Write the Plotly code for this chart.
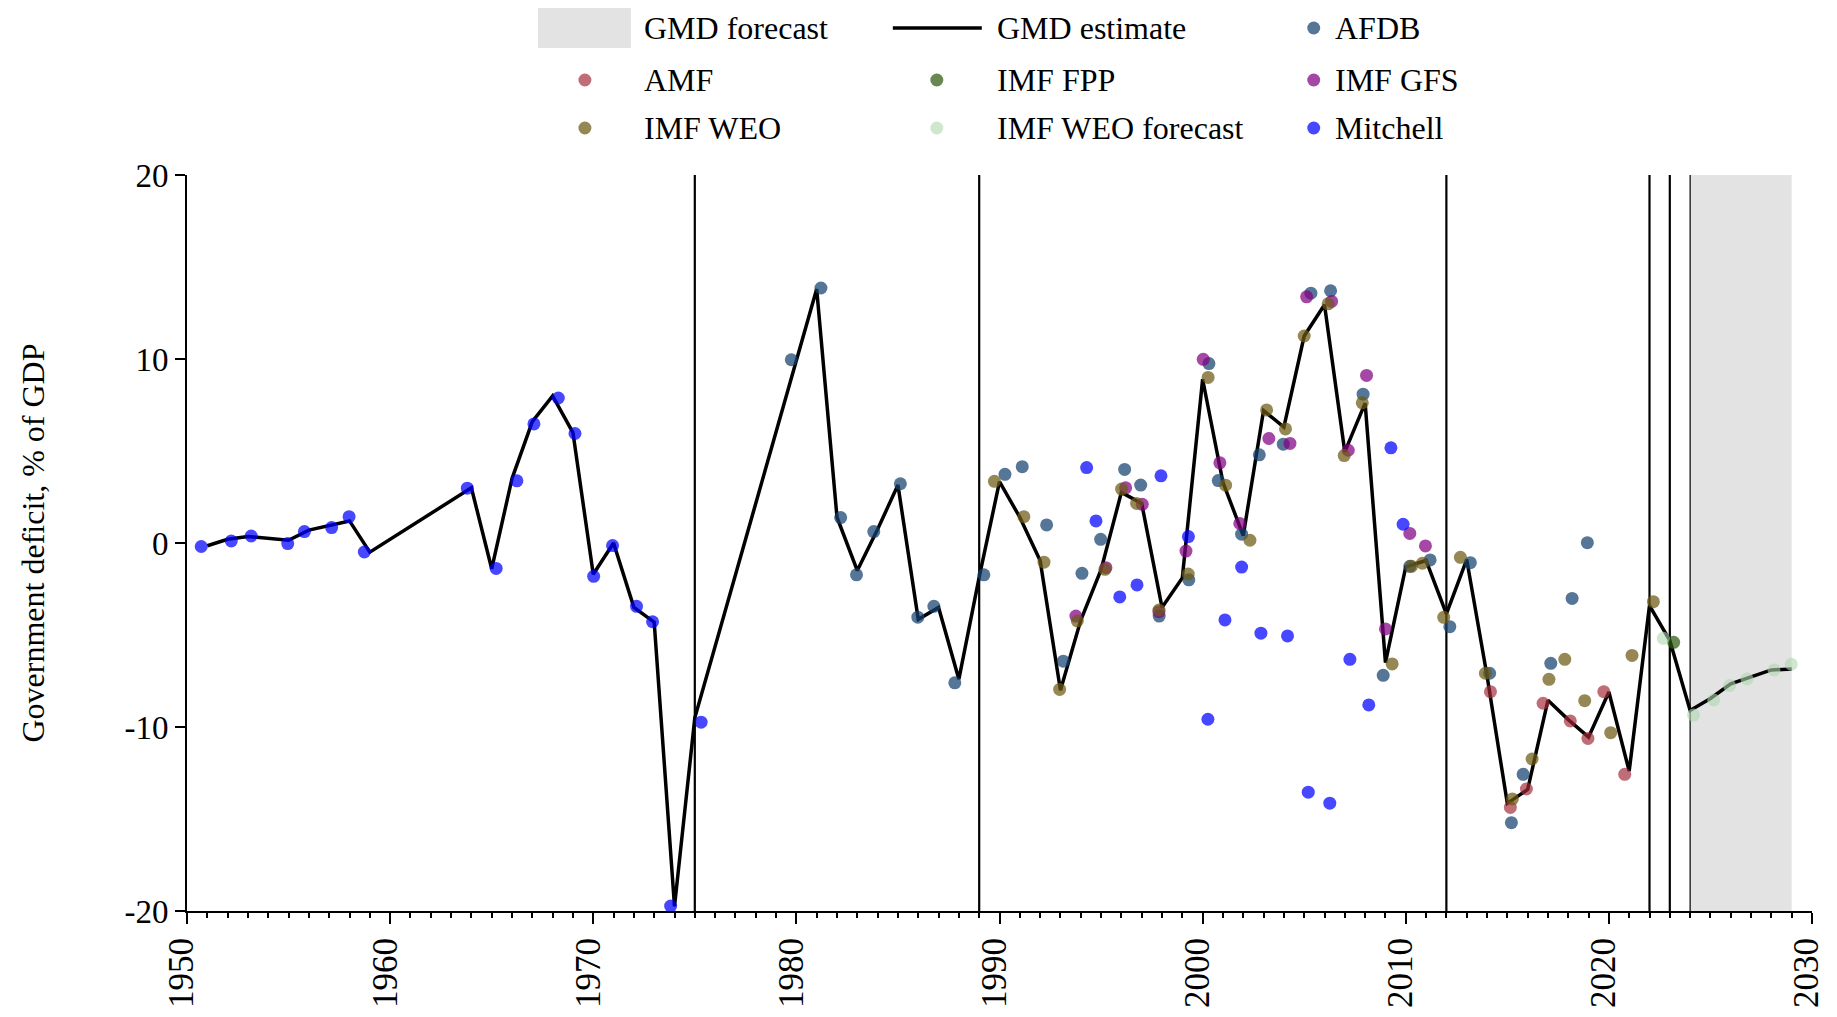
import plotly.graph_objects as go

FONT = "Liberation Serif, Times New Roman, Times, serif"
# page has an 8px body margin; the figure is sized so it fits the 1837x1017 window
W, H = 1821, 1001
OFF = 8
ML, MT = 187 - OFF, 175 - OFF
MR = W - (1812.4 - OFF)
MB = H - (911 - OFF)

# ---------------- data ----------------
gmd_years = [1951, 1952, 1953, 1955, 1956, 1957, 1958, 1959,
             1964, 1965, 1966, 1967, 1968, 1969, 1970, 1971, 1972, 1973, 1974, 1975,
             1980, 1981, 1982, 1983, 1984, 1985, 1986, 1987, 1988, 1989,
             1990, 1991, 1992, 1993, 1994, 1995, 1996, 1997, 1998, 1999,
             2000, 2001, 2002, 2003, 2004, 2005, 2006, 2007, 2008, 2009,
             2010, 2011, 2012, 2013, 2014, 2015, 2016, 2017, 2018, 2019,
             2020, 2021, 2022, 2023, 2024, 2025, 2026, 2027, 2028, 2029]
gmd_values = [-0.15, 0.2, 0.35, 0.15, 0.7, 0.95, 1.2, -0.5,
              3.0, -1.4, 3.5, 6.6, 8.0, 6.0, -1.7, 0.0, -3.5, -4.3, -19.75, -9.5,
              9.9, 13.8, 1.4, -1.5, 0.75, 3.15, -4.15, -3.5, -7.4, -1.85,
              3.33, 1.4, -0.95, -8.0, -4.2, -1.45, 2.75, 2.15, -3.5, -1.9,
              8.9, 3.3, 0.4, 7.2, 6.3, 11.25, 12.95, 4.95, 7.6, -6.5,
              -1.3, -0.95, -3.85, -0.9, -7.2, -14.15, -13.4, -8.55, -9.6, -10.55,
              -8.1, -12.4, -3.4, -5.3, -9.1, -8.45, -7.65, -7.3, -6.9, -6.85]

afdb_x = [1979.75, 1981.21, 1982.18, 1982.96, 1983.81, 1985.12, 1985.98, 1986.77, 1987.8, 1989.23,
          1990.27, 1991.12, 1992.32, 1993.14, 1994.06, 1994.98, 1996.16, 1996.95, 1997.86, 1999.32,
          2000.31, 2000.77, 2001.92, 2002.79, 2003.97, 2005.33, 2006.3, 2007.9, 2008.89, 2010.2,
          2011.2, 2012.17, 2013.18, 2014.13, 2015.2, 2015.78, 2017.14, 2018.19, 2018.94]
afdb_y = [9.96, 13.86, 1.38, -1.73, 0.62, 3.22, -4.03, -3.44, -7.6, -1.73,
          3.73, 4.15, 0.98, -6.42, -1.65, 0.2, 4.0, 3.15, -3.97, -2.0,
          9.75, 3.39, 0.48, 4.79, 5.37, 13.58, 13.71, 8.09, -7.19, -1.27,
          -0.92, -4.55, -1.07, -7.08, -15.2, -12.57, -6.54, -3.01, 0.02]

amf_x = [2014.17, 2015.15, 2015.94, 2016.76, 2018.1, 2018.97, 2019.75, 2020.78]
amf_y = [-8.08, -14.37, -13.37, -8.71, -9.67, -10.62, -8.08, -12.57]

fpp_x = [2023.19]
fpp_y = [-5.4]

gfs_x = [1993.76, 1995.24, 1996.21, 1997.03, 1997.85, 1999.18, 2000.03, 2000.85, 2001.83,
         2003.26, 2004.3, 2005.12, 2006.35, 2007.17, 2008.07, 2009.0, 2010.2, 2010.97]
gfs_y = [-3.97, -1.34, 3.0, 2.1, -3.73, -0.44, 9.98, 4.36, 1.06,
         5.68, 5.41, 13.38, 13.13, 5.04, 9.11, -4.67, 0.52, -0.16]

weo_x = [1989.75, 1991.2, 1992.19, 1992.96, 1993.83, 1995.19, 1996.01, 1996.75, 1997.85, 1999.29,
         2000.27, 2001.13, 2002.33, 2003.15, 2004.08, 2005.0, 2006.18, 2006.97, 2007.86, 2009.33,
         2010.28, 2010.82, 2011.87, 2012.69, 2013.92, 2015.25, 2016.22, 2017.05, 2017.83, 2018.81,
         2020.09, 2021.14, 2022.19]
weo_y = [3.35, 1.43, -1.04, -7.96, -4.24, -1.43, 2.93, 2.15, -3.64, -1.69,
         9.0, 3.14, 0.15, 7.23, 6.2, 11.25, 13.0, 4.75, 7.62, -6.57,
         -1.27, -1.1, -4.04, -0.78, -7.08, -13.91, -11.74, -7.41, -6.32, -8.57,
         -10.31, -6.11, -3.19]

weof_x = [2022.68, 2024.17, 2025.16, 2025.94, 2026.8, 2028.13, 2028.98]
weof_y = [-5.18, -9.35, -8.53, -7.75, -7.39, -6.9, -6.59]

mitchell_x = [1950.7, 1952.18, 1953.16, 1954.96, 1955.78, 1957.12, 1957.98, 1958.73, 1963.8, 1965.22,
              1966.24, 1967.08, 1968.28, 1969.1, 1970.02, 1970.95, 1972.13, 1972.92, 1973.81, 1975.31,
              1994.29, 1994.75, 1995.92, 1996.77, 1997.95, 1999.3, 2000.26, 2001.1, 2001.92, 2002.87,
              2004.18, 2005.2, 2006.26, 2007.25, 2008.18, 2009.27, 2009.87]
mitchell_y = [-0.19, 0.11, 0.38, -0.03, 0.62, 0.84, 1.43, -0.49, 2.98, -1.38,
              3.38, 6.47, 7.88, 5.95, -1.81, -0.14, -3.44, -4.28, -19.73, -9.74,
              4.1, 1.2, -2.93, -2.28, 3.65, 0.35, -9.58, -4.18, -1.31, -4.9,
              -5.05, -13.54, -14.14, -6.32, -8.8, 5.17, 1.02]

break_years = [1975, 1989, 2012, 2022, 2023]
forecast_start, forecast_end = 2024, 2029

x_ticks = [1950, 1960, 1970, 1980, 1990, 2000, 2010, 2020, 2030]
y_ticks = [-20, -10, 0, 10, 20]
y_ticktext = ["-20", "-10", "0", "10", "20"]

series = [
    ("AFDB", afdb_x, afdb_y, "rgba(20,65,110,0.72)"),
    ("AMF", amf_x, amf_y, "rgba(160,40,55,0.68)"),
    ("IMF FPP", fpp_x, fpp_y, "rgba(45,90,15,0.72)"),
    ("IMF GFS", gfs_x, gfs_y, "rgba(130,0,130,0.72)"),
    ("IMF WEO", weo_x, weo_y, "rgba(110,90,20,0.72)"),
    ("IMF WEO forecast", weof_x, weof_y, "rgba(175,215,175,0.6)"),
    ("Mitchell", mitchell_x, mitchell_y, "rgba(0,0,255,0.72)"),
]
FORECAST_FILL = "#e3e3e3"
MARKER_SIZE = 13

# ---------------- figure ----------------
fig = go.Figure()

fig.add_trace(go.Scatter(
    x=gmd_years, y=gmd_values, mode="lines", name="GMD estimate",
    line=dict(color="black", width=3.5), showlegend=False, hoverinfo="skip"))

for name, xs, ys, col in series:
    fig.add_trace(go.Scatter(
        x=xs, y=ys, mode="markers", name=name, showlegend=False,
        marker=dict(size=MARKER_SIZE, color=col, line=dict(width=0)),
        cliponaxis=False))

shapes = []
shapes.append(dict(type="rect", xref="x", yref="y", x0=forecast_start, x1=forecast_end,
                   y0=y_ticks[0], y1=y_ticks[-1], fillcolor=FORECAST_FILL,
                   line=dict(width=0), layer="below"))
for yr in break_years:
    shapes.append(dict(type="line", xref="x", yref="y", x0=yr, x1=yr,
                       y0=y_ticks[0], y1=y_ticks[-1], line=dict(color="black", width=2.2),
                       layer="below"))
shapes.append(dict(type="line", xref="x", yref="y", x0=forecast_start, x1=forecast_start,
                   y0=y_ticks[0], y1=y_ticks[-1], line=dict(color="black", width=1.2),
                   layer="below"))

# ---------------- manual legend (page-pixel layout converted to paper coords) ----------------
PW = W - ML - MR
PH = H - MT - MB


def px(xp):
    return (xp - OFF - ML) / PW


def py(yp):
    return (H - MB - (yp - OFF)) / PH


col_text_x = [642, 995, 1333]
col_sym_x = [585, 937, 1314]
row_y = [28, 80, 128]

annotations = []
legend_items = [
    ("GMD forecast", "box", FORECAST_FILL),
    ("GMD estimate", "line", "black"),
] + [(name, "dot", col) for name, _, _, col in series]

for i, (label, kind, col) in enumerate(legend_items):
    r, c = divmod(i, 3)
    yc = row_y[r]
    if kind == "box":
        shapes.append(dict(type="rect", xref="paper", yref="paper",
                           x0=px(538), x1=px(631), y0=py(48), y1=py(8),
                           fillcolor=col, line=dict(width=0)))
    elif kind == "line":
        shapes.append(dict(type="line", xref="paper", yref="paper",
                           x0=px(893), x1=px(982), y0=py(yc), y1=py(yc),
                           line=dict(color=col, width=3.5)))
    else:
        shapes.append(dict(type="circle", xref="paper", yref="paper",
                           xsizemode="pixel", ysizemode="pixel",
                           xanchor=px(col_sym_x[c]), yanchor=py(yc),
                           x0=-MARKER_SIZE / 2, x1=MARKER_SIZE / 2,
                           y0=-MARKER_SIZE / 2, y1=MARKER_SIZE / 2,
                           fillcolor=col, line=dict(width=0)))
    annotations.append(dict(text=label, xref="paper", yref="paper",
                            x=px(col_text_x[c]), y=py(yc), xanchor="left", yanchor="middle",
                            showarrow=False, font=dict(family=FONT, size=32, color="black")))

fig.update_layout(
    width=W, height=H,
    margin=dict(l=ML, r=MR, t=MT, b=MB, pad=0, autoexpand=False),
    paper_bgcolor="white", plot_bgcolor="white",
    font=dict(family=FONT, size=32, color="black"),
    showlegend=False,
    shapes=shapes, annotations=annotations,
    xaxis=dict(range=[x_ticks[0], x_ticks[-1]], tickvals=x_ticks, tickangle=-90,
               ticks="outside", ticklen=11, tickwidth=2, tickcolor="black",
               showline=True, linewidth=2, linecolor="black",
               showgrid=False, zeroline=False, automargin=False,
               ticklabeloverflow="allow", ticklabelshift=-5,
               tickfont=dict(family=FONT, size=35),
               minor=dict(dtick=1, ticks="outside", ticklen=5, tickwidth=2,
                          tickcolor="black", showgrid=False)),
    yaxis=dict(range=[y_ticks[0], y_ticks[-1]], tickvals=y_ticks, ticktext=y_ticktext,
               ticks="outside", ticklen=10, tickwidth=2, tickcolor="black",
               showline=True, linewidth=2, linecolor="black",
               showgrid=False, zeroline=False, automargin=False,
               ticklabeloverflow="allow",
               tickfont=dict(family=FONT, size=33),
               title=dict(text="Government deficit, % of GDP",
                          font=dict(family=FONT, size=32), standoff=70)),
)

fig.write_html("out.html")
